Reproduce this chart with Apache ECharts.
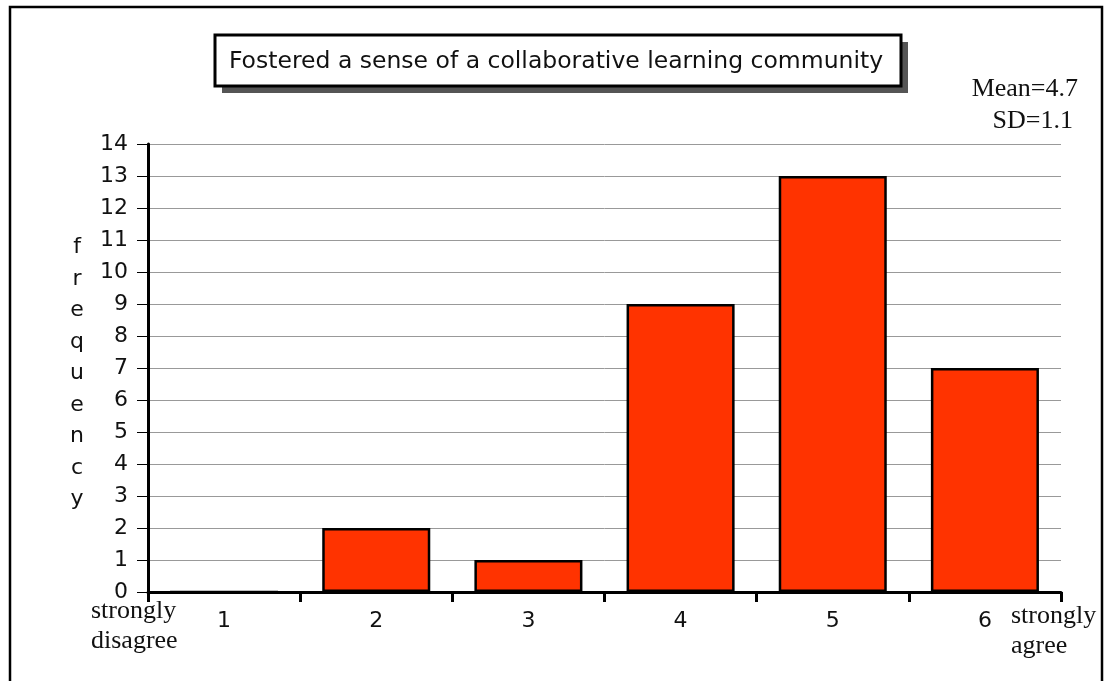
<!DOCTYPE html>
<html>
<head>
<meta charset="utf-8">
<script src="https://cdn.jsdelivr.net/npm/echarts@6/dist/echarts.min.js"></script>
<style>
  html, body { margin: 0; padding: 0; background: #fff; }
  #chart { width: 1105px; height: 681px; }
</style>
</head>
<body>
<div id="chart"></div>
<script>
// survey answers, 1 = strongly disagree ... 6 = strongly agree
const categories = ['1', '2', '3', '4', '5', '6'];
const frequency = [0, 2, 1, 9, 13, 7];
const yTicks = { min: 0, max: 14, step: 1 };

const titleText = 'Fostered a sense of a collaborative learning community';
const statsLines = ['Mean=4.7', 'SD=1.1'];
const yName = 'frequency';

const sans = 'DejaVu Sans';
const serif = 'Liberation Serif';

let chart = echarts.init(document.getElementById('chart'));

let option = {
    animation: false,
    backgroundColor: '#fff',
    grid: {
        left: 148,
        right: 44,
        top: 144,
        bottom: 89
    },
    xAxis: {
        type: 'category',
        data: categories,
        boundaryGap: true,
        axisLine: { lineStyle: { color: '#000', width: 3 } },
        axisTick: { show: true, length: 10, lineStyle: { color: '#000', width: 3 } },
        axisLabel: {
            margin: 18,
            fontFamily: sans,
            fontSize: 22,
            color: '#111'
        },
        splitLine: { show: false }
    },
    yAxis: {
        type: 'value',
        min: yTicks.min,
        max: yTicks.max,
        interval: yTicks.step,
        axisLine: { show: true, lineStyle: { color: '#000', width: 3 } },
        axisTick: { show: true, length: 11, lineStyle: { color: '#000', width: 1 } },
        axisLabel: {
            margin: 20,
            fontFamily: sans,
            fontSize: 22,
            color: '#111'
        },
        splitLine: { show: true, lineStyle: { color: '#999', width: 1 } }
    },
    series: [{
        type: 'bar',
        data: frequency,
        barWidth: '71%',
        itemStyle: {
            color: '#ff3300',
            borderColor: '#000',
            borderWidth: 2.5
        }
    }],
    graphic: [
        // frame round the whole picture
        {
            type: 'rect',
            shape: { x: 10, y: 7, width: 1092, height: 720 },
            style: { fill: 'none', stroke: '#000', lineWidth: 2.5 },
            silent: true
        },
        // title box with its drop shadow
        {
            type: 'rect',
            shape: { x: 222, y: 42, width: 686, height: 51 },
            style: { fill: '#555' },
            silent: true
        },
        {
            type: 'rect',
            shape: { x: 215, y: 35, width: 686, height: 51 },
            style: { fill: '#fff', stroke: '#000', lineWidth: 3 },
            silent: true
        },
        {
            type: 'text',
            x: 556,
            y: 62,
            style: {
                text: titleText,
                fontFamily: sans,
                fontSize: 23.5,
                fill: '#111',
                align: 'center',
                verticalAlign: 'middle'
            }
        },
        // mean / sd
        {
            type: 'text',
            x: 1078,
            y: 89,
            style: {
                text: statsLines[0],
                fontFamily: serif,
                fontSize: 26,
                fill: '#111',
                align: 'right',
                verticalAlign: 'middle'
            }
        },
        {
            type: 'text',
            x: 1073,
            y: 121,
            style: {
                text: statsLines[1],
                fontFamily: serif,
                fontSize: 26,
                fill: '#111',
                align: 'right',
                verticalAlign: 'middle'
            }
        },
        // y name, one letter per line
        {
            type: 'text',
            x: 77,
            y: 232,
            style: {
                text: yName.split('').join('\n'),
                fontFamily: sans,
                fontSize: 22,
                lineHeight: 31.5,
                fill: '#111',
                align: 'center',
                verticalAlign: 'top'
            }
        },
        // scale end labels
        {
            type: 'text',
            x: 91,
            y: 626,
            style: {
                text: 'strongly\ndisagree',
                fontFamily: serif,
                fontSize: 26,
                lineHeight: 30,
                fill: '#111',
                align: 'left',
                verticalAlign: 'middle'
            }
        },
        {
            type: 'text',
            x: 1011,
            y: 631,
            style: {
                text: 'strongly\nagree',
                fontFamily: serif,
                fontSize: 26,
                lineHeight: 30,
                fill: '#111',
                align: 'left',
                verticalAlign: 'middle'
            }
        }
    ]
};

chart.setOption(option);
</script>
</body>
</html>
